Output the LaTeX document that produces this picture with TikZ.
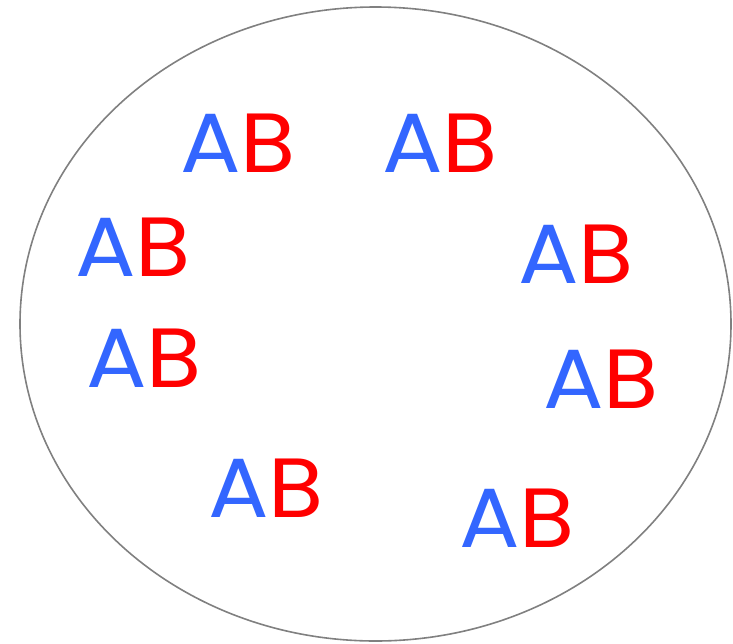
\documentclass[tikz,border=0pt]{standalone}
\usepackage{fontspec}
\setmainfont{Poppins}[FakeStretch=1.07]
\usepackage{tikz}
\usetikzlibrary{positioning}
\definecolor{ABBlue}{RGB}{51,102,255}
\definecolor{ABRed}{RGB}{255,0,0}
\definecolor{ABGray}{RGB}{128,128,128}
\newcommand{\abpair}{\textcolor{ABBlue}{A}\textcolor{ABRed}{B}}

\begin{document}
\begin{tikzpicture}[x=1pt, y=-1pt,
          pair/.style={anchor=base west, inner sep=0pt,
                       font=\fontsize{84}{84}\selectfont},
          rim/.style={draw=ABGray, line width=1.6pt}
        ]
        \useasboundingbox (0,0) rectangle (733,643);
        % Outer set
        \coordinate (ctr) at (375.5,324);
        \draw[rim] (ctr) ellipse [x radius=355.5pt, y radius=317pt];

        % Pairs, left side
        \node[pair] (ab1) at (180,172) {\abpair};
        \node[pair] (ab3) at (75,276) {\abpair};
        \node[pair] (ab4) at (86,387) {\abpair};
        \node[pair] (ab7) at (208,517) {\abpair};

        % Pairs, right side
        \node[pair] (ab2) at (382,172) {\abpair};
        \node[pair] (ab5) at (518,283) {\abpair};
        \node[pair] (ab6) at (543,408) {\abpair};
        \node[pair] (ab8) at (459,547) {\abpair};
      \end{tikzpicture}
\end{document}
